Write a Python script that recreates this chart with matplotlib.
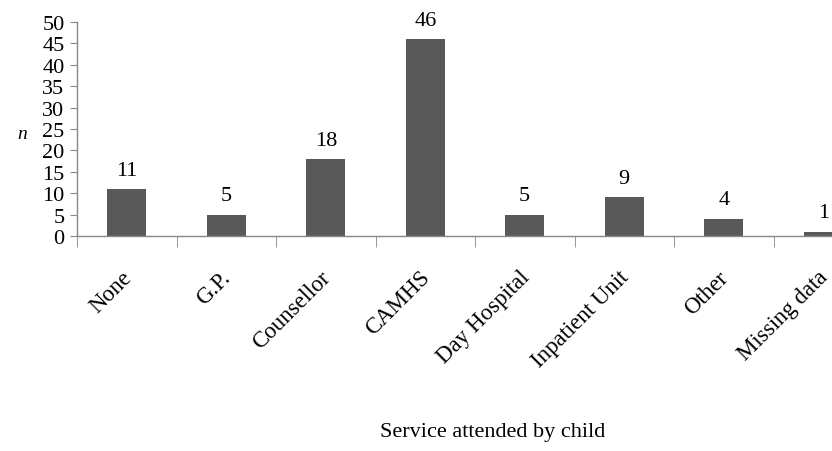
import matplotlib
matplotlib.use("Agg")
import matplotlib.pyplot as plt
import matplotlib.transforms as mtransforms
import numpy as np

categories = ["None", "G.P.", "Counsellor", "CAMHS", "Day Hospital",
              "Inpatient Unit", "Other", "Missing data"]
values = [11, 5, 18, 46, 5, 9, 4, 1]
yticks = list(range(0, 51, 5))

plt.rcParams['font.family'] = ['Liberation Serif', 'DejaVu Serif']

fig = plt.figure(figsize=(8.32, 4.52), dpi=100)
ax = fig.add_axes([77/832, 1-237/452, (873-77)/832, (237-23)/452])

x = np.arange(len(categories))
bars = ax.bar(x, values, width=0.39, color="#595959")
for xi, v in zip(x, values):
    ax.text(xi, v + 2.2, str(v), ha="center", va="bottom", fontsize=16)

ax.set_xlim(-0.5, len(categories) - 0.5)
ax.set_ylim(0, 50)
ax.set_yticks(yticks)
ax.set_yticklabels([str(t) for t in yticks], fontsize=16)
ax.tick_params(axis="y", length=5, color="#888888", pad=4)

ax.set_xticks(x)
ax.set_xticklabels(categories, rotation=45, ha="right", rotation_mode="anchor", fontsize=16.5)
ax.tick_params(axis="x", which="major", length=0, pad=22)
offset = mtransforms.ScaledTranslation(-6/100, 0, fig.dpi_scale_trans)
for lab in ax.get_xticklabels():
    lab.set_transform(lab.get_transform() + offset)
ax.set_xticks(np.arange(-0.5, len(categories)), minor=True)
ax.tick_params(axis="x", which="minor", length=8, color="#888888")

for s in ["top", "right"]:
    ax.spines[s].set_visible(False)
for s in ["left", "bottom"]:
    ax.spines[s].set_color("#888888")
    ax.spines[s].set_linewidth(1)

fig.text(22/832, 1-135/452, "n", style="italic", fontsize=14, ha="center", va="center")
fig.text(493/832, 1-433/452, "Service attended by child", fontsize=16, ha="center", va="center")

fig.savefig("out.png", dpi=100)
